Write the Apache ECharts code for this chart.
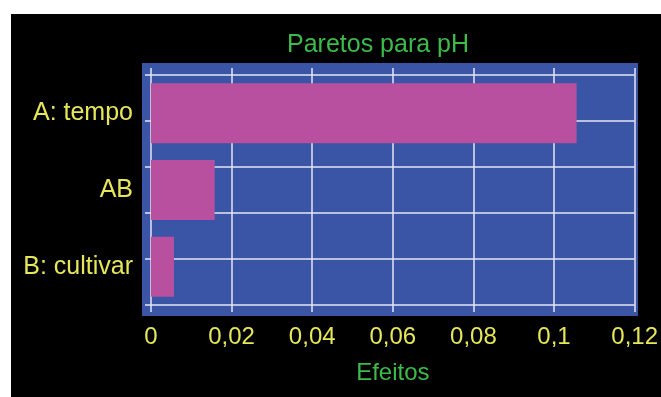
<!DOCTYPE html>
<html>
<head>
<meta charset="utf-8">
<script src="https://cdn.jsdelivr.net/npm/echarts@6/dist/echarts.min.js"></script>
<style>
html,body{margin:0;padding:0;background:#fff;width:661px;height:397px;overflow:hidden;}
#chart{position:absolute;left:11px;top:14px;width:650px;height:383px;}
</style>
</head>
<body>
<div id="chart"></div>
<script>
const titleText = 'Paretos para pH';
const xAxisName = 'Efeitos';
const categories = ['A: tempo', 'AB', 'B: cultivar'];
const effects = [0.1056, 0.0158, 0.0057];
const xTickLabels = ['0', '0,02', '0,04', '0,06', '0,08', '0,1', '0,12'];
const xStep = 0.02;

const FONT = "'Liberation Sans', Arial, Helvetica, sans-serif";
const YELLOW = '#e6e65a';
const GREEN = '#3dbb4a';
const BLUE = '#3a55a5';
const PINK = '#b8509f';
const GRIDC = '#e4e6f2';

const chart = echarts.init(document.getElementById('chart'), null, {renderer: 'canvas'});
chart.setOption({
  backgroundColor: '#000',
  animation: false,
  textStyle: {fontFamily: FONT},
  title: {
    text: titleText, left: 271, top: 14,
    textStyle: {color: GREEN, fontSize: 25, fontWeight: 'normal', fontFamily: FONT}
  },
  graphic: [{
    type: 'rect', z: -1, silent: true,
    shape: {x: 131, y: 49, width: 496, height: 253},
    style: {fill: BLUE}
  }],
  grid: {left: 140, top: 61, width: 485, height: 230, containLabel: false},
  xAxis: [{
    type: 'value', position: 'bottom', min: 0, max: xStep * (xTickLabels.length - 1), interval: xStep,
    name: xAxisName, nameLocation: 'middle', nameGap: 56,
    nameTextStyle: {color: GREEN, fontSize: 24, fontFamily: FONT},
    axisLine: {show: false},
    axisTick: {show: true, length: 7, lineStyle: {color: GRIDC, width: 1.5}},
    axisLabel: {color: YELLOW, fontSize: 24, margin: 20, fontFamily: FONT,
      formatter: v => xTickLabels[Math.round(v / xStep)]},
    splitLine: {show: true, lineStyle: {color: GRIDC, width: 1.5}}
  }, {
    type: 'value', position: 'top', min: 0, max: xStep * (xTickLabels.length - 1), interval: xStep,
    axisLine: {show: false},
    axisTick: {show: true, length: 7, lineStyle: {color: GRIDC, width: 1.5}},
    axisLabel: {show: false},
    splitLine: {show: false}
  }],
  yAxis: [{
    type: 'category', data: categories, inverse: true, position: 'left',
    axisLine: {show: false}, axisTick: {show: false},
    axisLabel: {color: YELLOW, fontSize: 25, margin: 18, fontFamily: FONT},
    splitLine: {show: false}
  }, {
    type: 'value', position: 'left', min: 0, max: 5, interval: 1,
    axisLine: {show: false},
    axisTick: {show: true, length: 6, lineStyle: {color: GRIDC, width: 1.5}},
    axisLabel: {show: false},
    splitLine: {show: true, lineStyle: {color: GRIDC, width: 1.5}}
  }],
  series: [{
    type: 'bar', xAxisIndex: 0, yAxisIndex: 0,
    data: effects, barWidth: 60,
    itemStyle: {color: PINK}
  }]
});
</script>
</body>
</html>
